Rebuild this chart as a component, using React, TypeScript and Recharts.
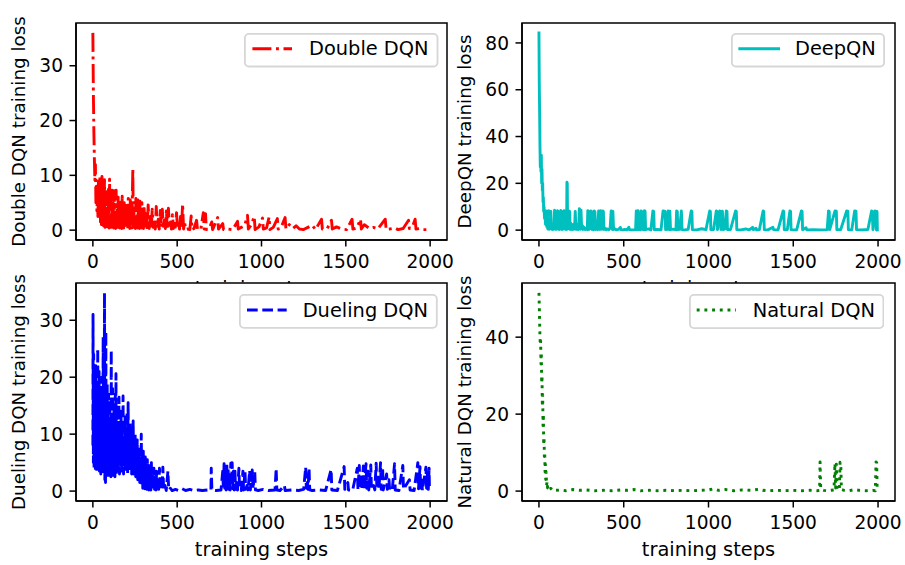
import React from 'react';
import { LineChart, Line, XAxis, YAxis, CartesianGrid, Legend, ReferenceArea } from 'recharts';

const FONT = '"DejaVu Sans", "Noto Sans", sans-serif';
const TICK_FS = 18.6;
const LABEL_FS = 19.4;
const YLABEL_FS = 18.3;
const LEGEND_FS = 19.4;

const STEP_DOMAIN: [number, number] = [-100, 2100];
const stepTicks = [0, 500, 1000, 1500, 2000];
const doubleTicks = [0, 10, 20, 30];
const deepTicks = [0, 20, 40, 60, 80];
const duelingTicks = [0, 10, 20, 30];
const naturalTicks = [0, 20, 40];

type Pair = [number, number];

// [training step, loss]
const doubleDQN: Pair[] = [
  [0, 36], [3, 25], [6, 18], [9, 13], [12, 9], [15, 12], [18, 5], [21, 8], [24, 3.5], [27, 7], [30, 2.5], [33, 9],
  [36, 3], [39, 6], [42, 10], [45, 1.5], [48, 5], [51, 1], [54, 9.8], [57, 2], [60, 6], [63, 0.8], [66, 4], [69, 9.2],
  [72, 0.5], [75, 5], [78, 1.5], [81, 7], [84, 0.6], [87, 4], [90, 1], [93, 8], [96, 0.4], [99, 9.3], [102, 1], [105, 6],
  [108, 0.5], [111, 3.5], [114, 7.3], [117, 0.8], [120, 5], [123, 0.4], [126, 7.2], [129, 1.2], [132, 3], [135, 0.3],
  [138, 7.3], [141, 1], [144, 4], [147, 0.5], [150, 6], [153, 1.5], [156, 3], [159, 0.4], [162, 5.5], [165, 0.8],
  [168, 2.5], [171, 0.3], [174, 6.2], [177, 1], [180, 4], [183, 0.4], [186, 5], [189, 0.8], [192, 2], [195, 0.3],
  [198, 4.5], [201, 1], [204, 3], [207, 0.3], [210, 5.8], [213, 0.6], [216, 2], [219, 0.3], [222, 5.5], [225, 1],
  [228, 3], [231, 0.4], [234, 6], [237, 11.2], [240, 0.5], [243, 4], [246, 0.8], [249, 2.5], [252, 0.3], [255, 5.8],
  [258, 0.8], [261, 3], [264, 0.4], [267, 5.5], [270, 1], [273, 2.5], [276, 0.3], [279, 5.3], [282, 0.8], [285, 3],
  [288, 0.4], [291, 5], [294, 0.6], [297, 2], [300, 0.3],
  [303, 4.5], [310, 0.3], [316, 3], [322, 0.2], [328, 4.6], [334, 0.3], [340, 2.5], [346, 0.2], [352, 3.8], [358, 0.5],
  [364, 1.5], [370, 0.2], [376, 4.3], [382, 0.4], [388, 2], [394, 0.2], [400, 3.6], [406, 0.5], [412, 3.8], [418, 0.2],
  [424, 1.8], [430, 0.3], [436, 3.5], [442, 0.2], [448, 4], [454, 0.4], [460, 1.5], [466, 0.2], [472, 2.8], [478, 0.3],
  [484, 1.2], [490, 0.2], [496, 3.2], [502, 0.3], [508, 1.5], [514, 0.2], [520, 2.5], [526, 0.4], [532, 4.8], [538, 0.2],
  [544, 1.5], [550, 0.1],
  [560, 0.2], [575, 0.1], [583, 2.6], [588, 0.1], [600, 0.3], [615, 1.8], [620, 0.2], [640, 0.1], [655, 3.2], [660, 0.2],
  [668, 3.0], [673, 0.1], [690, 0.3], [705, 1.5], [710, 0.1], [740, 2.3], [745, 0.2], [770, 1.2], [775, 0.1], [800, 0.2],
  [830, 0.1], [858, 1.6], [862, 0.2], [880, 0.5], [900, 0.8], [917, 2.7], [922, 0.2], [940, 1.0], [957, 2.5], [962, 0.1],
  [985, 0.6], [1006, 2.2], [1011, 0.2], [1030, 0.4], [1045, 2.4], [1050, 0.1], [1070, 0.5], [1094, 2.1], [1099, 0.2],
  [1115, 0.4], [1140, 2.3], [1145, 0.2], [1165, 1.0], [1185, 0.3], [1205, 0.8], [1225, 0.2], [1250, 0.1], [1275, 0.5],
  [1301, 0.9], [1320, 0.1], [1356, 2.0], [1361, 0.2], [1390, 0.3], [1415, 1.8], [1420, 0.2], [1445, 0.6], [1475, 0.2],
  [1505, 0.1], [1537, 2.0], [1542, 0.2], [1565, 0.4], [1587, 2.0], [1592, 0.2], [1610, 1.0], [1640, 0.3], [1665, 0.5],
  [1690, 0.2], [1734, 2.0], [1739, 0.1], [1760, 0.2], [1790, 0.4], [1810, 0.1], [1840, 0.3], [1872, 1.8], [1877, 0.3],
  [1895, 0.6], [1911, 2.0], [1916, 0.2], [1940, 0.3], [1960, 0.1], [1995, 0.1],
];

const deepQN: Pair[] = [
  [0, 84.3], [2, 62], [4, 50], [6, 36], [8, 27], [10, 31], [12, 25], [14, 32], [16, 20], [18, 26], [20, 17], [22, 20],
  [24, 12], [26, 14], [28, 8], [30, 10], [33, 5], [36, 6], [39, 2.5], [42, 4], [43, 8.2], [46, 1.5], [49, 3], [52, 0.5],
  [55, 2], [58, 8.3], [61, 0.4], [64, 2.5], [67, 0.6], [70, 8], [73, 0.5], [76, 2], [80, 0.3], [84, 1.5], [88, 0.4],
  [92, 8.5], [95, 0.5], [98, 2], [101, 0.3], [105, 1.8], [109, 8.3], [112, 8.2], [115, 0.4], [118, 2.5], [121, 0.3],
  [125, 1], [129, 8.4], [132, 8.2], [135, 0.3], [139, 2], [143, 0.5], [148, 8.3], [152, 8.1], [155, 0.4], [159, 1.5],
  [163, 0.3], [165, 20.5], [167, 20], [169, 0.5], [173, 2], [177, 8.2], [181, 8], [184, 0.3], [188, 3], [192, 0.4],
  [196, 1], [200, 0.3], [205, 2.5], [210, 0.5], [214, 8], [218, 0.4], [222, 2.5], [226, 0.3], [230, 1], [234, 0.3],
  [238, 9.2], [242, 8.7], [245, 0.4], [248, 8.5], [252, 0.6], [256, 2], [260, 0.3], [266, 1.2], [272, 0.3], [278, 0.8],
  [285, 0.2], [288, 8.3], [292, 8.1], [295, 0.3], [300, 0.6], [306, 8.2], [310, 8], [313, 0.3], [318, 1], [322, 0.2],
  [326, 8.2], [330, 7.9], [333, 0.3], [340, 0.8], [346, 0.2], [352, 8.2], [356, 8], [359, 0.3], [364, 8.3], [368, 8],
  [371, 0.4], [376, 8.2], [380, 8], [383, 0.3], [390, 0.9], [396, 0.2], [404, 0.5], [412, 0.2], [420, 1], [426, 8.2],
  [430, 8.1], [433, 0.3], [436, 8], [440, 0.3], [448, 0.6], [456, 0.1], [470, 0.3], [480, 1.2], [484, 0.2], [495, 0.1],
  [505, 0.3], [520, 0.1], [530, 1.2], [534, 0.2], [550, 0.1], [570, 0.2], [574, 8.2], [578, 8], [581, 0.2], [584, 8.3],
  [588, 0.3], [596, 0.2], [602, 8.2], [606, 8], [609, 0.3], [618, 0.2], [622, 8.3], [626, 8.1], [629, 0.2], [645, 0.5],
  [660, 0.1], [672, 8.2], [677, 8], [680, 0.2], [700, 0.3], [720, 0.1], [732, 8.2], [736, 8], [740, 8.1], [744, 8],
  [747, 0.2], [758, 0.3], [762, 8.2], [766, 8], [769, 0.2], [772, 8.1], [776, 0.2], [790, 0.4], [808, 0.2], [812, 8.2],
  [816, 8], [819, 0.2], [830, 0.3], [840, 8.2], [844, 0.2], [860, 0.1], [880, 0.3], [898, 8.2], [902, 8], [905, 0.2],
  [930, 0.1], [960, 0.6], [985, 0.2], [1007, 8.2], [1011, 8], [1014, 0.2], [1030, 0.3], [1046, 8.2], [1050, 8],
  [1053, 0.2], [1066, 8.2], [1070, 8], [1073, 0.3], [1082, 8.1], [1086, 0.2], [1096, 0.5], [1105, 8.2], [1109, 8],
  [1112, 0.2], [1130, 0.3], [1160, 8.2], [1164, 8], [1167, 0.2], [1190, 0.1], [1220, 0.5], [1240, 0.1], [1260, 1.2],
  [1264, 0.2], [1280, 0.8], [1284, 0.1], [1300, 0.2], [1322, 8.2], [1326, 8], [1329, 0.2], [1350, 0.1], [1380, 1.2],
  [1384, 0.2], [1410, 0.1], [1440, 8.2], [1444, 8], [1447, 0.2], [1465, 0.3], [1480, 8.2], [1484, 8], [1487, 0.2],
  [1520, 0.1], [1548, 8.2], [1552, 8], [1555, 0.2], [1575, 1], [1580, 0.1], [1620, 0.2], [1660, 0.1], [1700, 0.2],
  [1708, 8.2], [1712, 8], [1715, 0.2], [1746, 8.2], [1750, 8], [1754, 8.1], [1757, 0.2], [1780, 0.3], [1815, 8.2],
  [1819, 8], [1822, 8.1], [1825, 0.2], [1845, 0.1], [1862, 8.2], [1866, 8], [1870, 8.1], [1873, 0.2], [1900, 0.1],
  [1940, 0.3], [1962, 8.2], [1966, 8], [1970, 0.2], [1982, 8.2], [1986, 8], [1990, 0.2], [1994, 8], [1996, 0.1],
];

const duelingDQN: Pair[] = [
  [0, 8], [1, 31], [3, 5], [5, 24], [7, 4], [9, 20], [11, 6], [13, 18], [15, 3.5], [17, 22], [19, 5], [21, 16],
  [23, 3.2], [25, 19], [27, 7], [29, 25], [31, 4], [33, 14], [35, 8], [37, 21], [39, 3.5], [41, 12], [43, 6], [45, 18],
  [47, 3], [49, 15], [51, 9], [53, 20], [55, 4], [57, 13], [59, 6], [61, 27], [63, 3], [65, 12], [67, 5], [69, 34.8],
  [71, 2], [73, 15], [75, 1.5], [77, 28], [79, 5], [81, 10], [83, 3], [85, 19], [87, 6], [89, 14], [91, 2.5], [93, 17],
  [95, 5], [97, 11], [99, 3], [101, 16], [103, 7], [105, 12], [107, 2.5], [109, 24.7], [111, 4], [113, 13], [115, 3],
  [117, 18], [119, 6], [121, 11], [123, 2.2], [125, 15], [127, 5], [129, 10], [131, 2.5], [133, 17], [135, 4],
  [137, 20.6], [139, 3], [141, 12], [143, 6], [145, 15], [147, 3.5], [149, 11], [152, 4], [155, 16.5], [158, 3],
  [161, 10], [164, 5], [167, 14], [170, 3.5], [173, 12], [176, 6], [179, 16.7], [182, 3], [185, 9], [188, 5], [191, 13],
  [194, 3.5], [197, 11], [200, 4], [203, 14], [206, 3], [209, 15.5], [212, 5], [215, 10], [218, 3.5], [221, 12], [224, 4],
  [227, 9], [230, 3], [233, 11], [236, 4], [239, 12.3], [242, 3], [245, 8], [248, 4], [251, 10], [254, 2.5], [257, 8],
  [260, 3], [263, 9], [266, 2], [269, 7], [272, 2.5], [275, 8], [278, 1.5], [281, 6], [284, 2], [287, 10], [290, 1],
  [293, 6], [296, 0.5], [299, 7], [302, 1], [305, 5], [308, 0.4], [311, 6], [314, 0.8], [317, 4.5], [320, 0.3],
  [323, 5.5], [326, 0.5], [329, 4], [332, 0.2], [335, 4.8], [338, 0.6], [341, 3], [344, 0.2], [347, 5], [350, 0.3],
  [354, 3], [358, 0.2], [362, 4], [366, 0.3], [370, 2.5], [374, 0.2], [378, 3.5], [382, 0.2], [386, 2], [390, 0.3],
  [395, 4], [400, 0.2], [405, 1.5], [410, 0.2], [415, 4.2], [420, 0.2], [428, 1], [435, 0.1], [445, 3.5], [450, 0.2],
  [460, 0.5], [470, 0.1], [490, 0.3], [510, 0.1], [530, 0.4], [550, 0.1], [575, 0.3], [600, 0.1], [625, 0.2], [650, 0.1],
  [680, 0.2], [700, 0.1], [702, 4], [706, 0.2], [730, 0.1], [760, 0.2], [770, 3.5], [774, 0.3], [778, 4.8], [782, 0.5],
  [786, 3], [790, 0.2], [794, 5], [798, 0.4], [802, 4], [806, 0.3], [810, 2], [814, 0.2], [818, 4.9], [822, 1],
  [826, 5], [830, 0.4], [834, 3.5], [838, 0.2], [842, 4], [846, 0.3], [852, 1.5], [858, 0.2], [866, 4], [870, 0.3],
  [880, 0.1], [890, 3.5], [894, 0.2], [902, 3.7], [906, 0.3], [914, 1], [920, 0.2], [930, 3.6], [934, 0.2], [945, 3.7],
  [950, 0.4], [960, 3.5], [964, 0.2], [980, 0.1], [1010, 0.3], [1040, 0.1], [1080, 0.2], [1087, 4], [1091, 0.2],
  [1110, 0.1], [1136, 1], [1140, 0.1], [1180, 0.2], [1220, 0.1], [1250, 0.3], [1262, 4.2], [1266, 0.5], [1272, 2],
  [1276, 0.3], [1282, 4], [1286, 0.2], [1300, 0.1], [1340, 0.2], [1380, 0.1], [1413, 3.8], [1417, 0.2], [1450, 0.1],
  [1490, 4.3], [1494, 0.3], [1512, 1.5], [1516, 0.2], [1540, 0.1], [1568, 4], [1572, 0.3], [1580, 4.5], [1584, 0.4],
  [1592, 3], [1596, 0.2], [1604, 4.4], [1608, 0.3], [1620, 4.8], [1624, 0.5], [1632, 3.5], [1636, 0.2], [1648, 4.6],
  [1652, 0.3], [1665, 1], [1672, 0.2], [1680, 4.9], [1684, 0.4], [1692, 3], [1696, 0.2], [1706, 5], [1710, 0.3],
  [1718, 4.2], [1722, 0.2], [1742, 3], [1746, 0.3], [1756, 2], [1760, 0.2], [1775, 0.1], [1789, 4.8], [1793, 0.2],
  [1815, 0.1], [1838, 4.5], [1842, 0.3], [1877, 2], [1881, 0.2], [1905, 0.1], [1927, 5], [1931, 0.4], [1940, 4.3],
  [1944, 0.3], [1950, 2.5], [1954, 0.1], [1975, 4.2], [1979, 0.5], [1985, 3.8], [1989, 0.3], [1994, 4], [1996, 0.2],
];

const naturalDQN: Pair[] = [
  [0, 51.5], [2, 48], [4, 44], [6, 40], [8, 38], [10, 39], [12, 33], [14, 36], [16, 28], [18, 30], [20, 22], [22, 25],
  [24, 17], [26, 20], [28, 12], [30, 14], [32, 9], [34, 10], [36, 5], [38, 7], [40, 3], [42, 5], [45, 1.5], [48, 2.5],
  [51, 0.8], [55, 1.2], [60, 0.5], [70, 0.7], [80, 0.3], [90, 0.5], [100, 0.2], [130, 0.3], [160, 0.1], [200, 0.4],
  [240, 0.2], [280, 0.3], [330, 0.1], [380, 0.2], [430, 0.1], [480, 0.3], [520, 0.2], [560, 0.4], [600, 0.1], [650, 0.2],
  [700, 0.1], [750, 0.2], [800, 0.1], [850, 0.2], [900, 0.1], [950, 0.2], [1000, 0.3], [1030, 0.6], [1060, 0.2],
  [1100, 0.4], [1150, 0.1], [1200, 0.3], [1250, 0.2], [1300, 0.5], [1320, 0.2], [1360, 0.1], [1400, 0.2], [1450, 0.1],
  [1500, 0.2], [1550, 0.1], [1600, 0.2], [1640, 0.1], [1655, 0.2], [1658, 7.6], [1662, 0.5], [1680, 0.2], [1700, 0.1],
  [1740, 0.3], [1746, 7.2], [1750, 0.8], [1754, 7], [1758, 0.5], [1772, 0.3], [1776, 7.5], [1780, 7.3], [1784, 0.4],
  [1800, 0.2], [1830, 0.1], [1860, 0.4], [1890, 0.2], [1930, 0.1], [1970, 0.2], [1984, 0.1], [1988, 7.6], [1992, 7.4],
  [1995, 0.2],
];

interface LegendGeom { x: number; y: number; w: number; h: number; s1: number; s2: number; sy: number; tx: number; ty: number; }

interface PanelCfg {
  left: number; top: number; width: number; height: number;
  plotLeft: number; plotTop: number; plotW: number; plotH: number;
  series: Pair[]; name: string; color: string; dash?: string; cap?: 'butt' | 'square';
  yLabel: string; yTicks: number[]; yDomain: [number, number];
  yLabelX: number; xLabelY: number; legend: LegendGeom;
}

function Panel(c: PanelCfg) {
  const data = c.series.map(([step, loss]) => ({ step, loss }));
  const axisStroke = { stroke: '#000', strokeWidth: 1.5 };
  const tickStyle = { fill: '#000', fontSize: TICK_FS, fontFamily: FONT };
  const cx = c.plotLeft + c.plotW / 2;
  const cy = c.plotTop + c.plotH / 2;
  const L = c.legend;
  const right = c.width - c.plotLeft - c.plotW;
  return (
    <div style={{ position: 'absolute', left: c.left, top: c.top, width: c.width, height: c.height }}>
      <LineChart width={c.width} height={c.height} data={data}
        margin={{ top: c.plotTop, left: 0, right, bottom: 0 }}>
        <CartesianGrid horizontal={false} vertical={false} fill="#ffffff" fillOpacity={1} />
        <XAxis dataKey="step" type="number" domain={STEP_DOMAIN} ticks={stepTicks} interval={0} allowDataOverflow
          height={c.height - c.plotTop - c.plotH} tickSize={6.5} tickMargin={8.3} tick={tickStyle}
          tickLine={axisStroke} axisLine={axisStroke}
          label={{
            content: () => (
              <text x={cx} y={c.xLabelY} textAnchor="middle" fontSize={LABEL_FS} fontFamily={FONT} fill="#000">training steps</text>
            ),
          }} />
        <YAxis type="number" domain={c.yDomain} ticks={c.yTicks} interval={0} allowDataOverflow width={c.plotLeft}
          tickSize={6.5} tickMargin={6.5} tick={tickStyle} tickLine={axisStroke} axisLine={axisStroke}
          label={{
            content: () => (
              <text x={c.yLabelX} y={cy} transform={`rotate(-90 ${c.yLabelX} ${cy})`} textAnchor="middle"
                fontSize={YLABEL_FS} fontFamily={FONT} fill="#000">{c.yLabel}</text>
            ),
          }} />
        <ReferenceArea x1={STEP_DOMAIN[0]} x2={STEP_DOMAIN[1]} y1={c.yDomain[0]} y2={c.yDomain[1]}
          fill="none" fillOpacity={0} stroke="#000" strokeWidth={1.5} ifOverflow="visible" />
        <Legend layout="horizontal" verticalAlign="middle" align="center"
          wrapperStyle={{ left: L.x, top: L.y, width: L.w, height: L.h, margin: 0, padding: 0 }}
          content={() => (
            <svg width={L.w} height={L.h} style={{ display: 'block' }}>
              <rect x={0.9} y={0.9} width={L.w - 1.8} height={L.h - 1.8} rx={4} ry={4} fill="#ffffff" fillOpacity={0.8}
                stroke="#cccccc" strokeOpacity={0.8} strokeWidth={1.8} />
              <line x1={L.s1} x2={L.s2} y1={L.sy} y2={L.sy} stroke={c.color} strokeWidth={2.9}
                strokeDasharray={c.dash} strokeLinecap={c.cap || 'butt'} />
              <text x={L.tx} y={L.ty} fontSize={LEGEND_FS} fontFamily={FONT} fill="#000">{c.name}</text>
            </svg>
          )} />
        <Line type="linear" dataKey="loss" stroke={c.color} strokeWidth={2.9} strokeDasharray={c.dash}
          strokeLinejoin="round" strokeLinecap={c.cap || 'butt'} dot={false} activeDot={false}
          isAnimationActive={false} name={c.name} />
      </LineChart>
    </div>
  );
}

const panels: PanelCfg[] = [
  {
    left: 0, top: 0, width: 460, height: 310, plotLeft: 76, plotTop: 23, plotW: 371, plotH: 217,
    series: doubleDQN, name: 'Double DQN', color: '#ff0000', dash: '19 4.6 2.9 4.6',
    yLabel: 'Double DQN training loss', yTicks: doubleTicks, yDomain: [-1.8, 37.8],
    yLabelX: 24.5, xLabelY: 295,
    legend: { x: 244.3, y: 33.3, w: 194.4, h: 34.4, s1: 8.4, s2: 48, sy: 15.7, tx: 65, ty: 22.4 },
  },
  {
    left: 450, top: 0, width: 455, height: 310, plotLeft: 72, plotTop: 23, plotW: 373, plotH: 217,
    series: deepQN, name: 'DeepQN', color: '#00bfbf', cap: 'square',
    yLabel: 'DeepQN training loss', yTicks: deepTicks, yDomain: [-4.215, 88.515],
    yLabelX: 20.5, xLabelY: 295,
    legend: { x: 281, y: 33.3, w: 154, h: 34.4, s1: 8.8, s2: 47.6, sy: 15.7, tx: 64, ty: 22.4 },
  },
  {
    left: 0, top: 265, width: 460, height: 300, plotLeft: 76, plotTop: 18, plotW: 371, plotH: 218,
    series: duelingDQN, name: 'Dueling DQN', color: '#0000ff', dash: '10.7 4.6',
    yLabel: 'Dueling DQN training loss', yTicks: duelingTicks, yDomain: [-1.74, 36.54],
    yLabelX: 24.5, xLabelY: 291,
    legend: { x: 239, y: 29, w: 198.7, h: 34.7, s1: 8, s2: 47.7, sy: 16, tx: 63.7, ty: 22.6 },
  },
  {
    left: 450, top: 265, width: 455, height: 300, plotLeft: 72, plotTop: 18, plotW: 373, plotH: 218,
    series: naturalDQN, name: 'Natural DQN', color: '#008000', dash: '2.9 4.8',
    yLabel: 'Natural DQN training loss', yTicks: naturalTicks, yDomain: [-2.575, 54.075],
    yLabelX: 20.5, xLabelY: 291,
    legend: { x: 239, y: 29, w: 195.3, h: 35, s1: 7.7, s2: 47, sy: 16, tx: 63.7, ty: 22.6 },
  },
];

export default function App() {
  return (
    <div style={{ position: 'absolute', left: 0, top: 0, width: 905, height: 565, background: '#ffffff', overflow: 'hidden' }}>
      {panels.map((p) => (
        <Panel key={p.name} {...p} />
      ))}
    </div>
  );
}
